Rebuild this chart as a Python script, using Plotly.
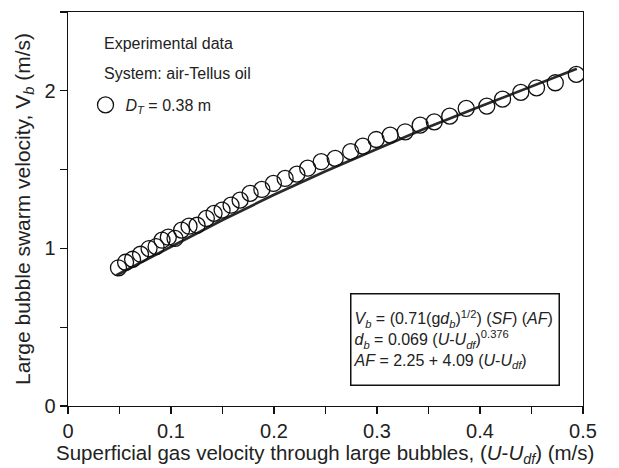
import plotly.graph_objects as go

u_exp = [0.0490, 0.0559, 0.0627, 0.0704, 0.0787, 0.0855, 0.0913, 0.0974, 0.1039, 0.1103,
         0.1175, 0.1253, 0.1343, 0.1418, 0.1496, 0.1583, 0.1671, 0.1768, 0.1882, 0.1994,
         0.2108, 0.2222, 0.2327, 0.2458, 0.2594, 0.2744, 0.2863, 0.2992, 0.3128, 0.3274,
         0.3419, 0.3556, 0.3706, 0.3866, 0.4066, 0.4219, 0.4396, 0.4549, 0.4731, 0.4935]
vb_exp = [0.877, 0.912, 0.931, 0.963, 0.999, 1.011, 1.052, 1.071, 1.063, 1.116,
          1.141, 1.147, 1.190, 1.222, 1.243, 1.274, 1.306, 1.349, 1.374, 1.412,
          1.444, 1.471, 1.509, 1.550, 1.571, 1.614, 1.649, 1.691, 1.719, 1.740,
          1.782, 1.803, 1.839, 1.888, 1.903, 1.947, 1.990, 2.019, 2.051, 2.104]

# Correlation curve
u_fit = [0.047, 0.10, 0.15, 0.20, 0.25, 0.30, 0.35, 0.40, 0.45, 0.494]
vb_fit = [0.83, 1.01, 1.18, 1.34, 1.49, 1.63, 1.77, 1.90, 2.03, 2.14]

x_tickvals = [0, 0.1, 0.2, 0.3, 0.4, 0.5]
x_ticktext = ["0", "0.1", "0.2", "0.3", "0.4", "0.5"]
y_tickvals = [0, 1, 2]
y_ticktext = ["0", "1", "2"]

FONT = "Liberation Sans, Arial, Helvetica, sans-serif"
TXT = "#222222"
AX = "#111111"

fig = go.Figure()
fig.add_trace(go.Scatter(
    x=u_fit, y=vb_fit, mode="lines",
    line=dict(color="#2a2a2a", width=2.7),
    showlegend=False, hoverinfo="skip"))
fig.add_trace(go.Scatter(
    x=u_exp, y=vb_exp, mode="markers",
    marker=dict(symbol="circle-open", size=16, color=AX, line=dict(width=1.3)),
    name="<i>D<sub>T</sub></i> = 0.38 m", showlegend=True))

axis_common = dict(
    showgrid=False, zeroline=False, showline=True, linecolor=AX, linewidth=1.3,
    mirror=True, ticks="outside", ticklen=7, tickwidth=1.3, tickcolor=AX,
    tickfont=dict(family=FONT, size=20, color=TXT),
)

fig.update_layout(
    width=619, height=468,
    margin=dict(l=68, r=36, t=12, b=62),
    paper_bgcolor="white", plot_bgcolor="white",
    font=dict(family=FONT, color=TXT),
    hovermode=False,
    xaxis=dict(range=[0, 0.5], tickmode="array", tickvals=x_tickvals, ticktext=x_ticktext,
               minor=dict(ticks="outside", ticklen=7, tickwidth=1.3, tickcolor=AX, dtick=0.05,
                          showgrid=False),
               **axis_common),
    yaxis=dict(range=[0, 2.5], tickmode="array", tickvals=y_tickvals, ticktext=y_ticktext,
               minor=dict(ticks="outside", ticklen=7, tickwidth=1.3, tickcolor=AX, dtick=0.5,
                          showgrid=False),
               title=dict(text="Large bubble swarm velocity, V<sub><i>b</i></sub> (m/s)",
                          font=dict(family=FONT, size=21, color=TXT), standoff=8),
               **axis_common),
    legend=dict(x=0.034, y=0.764, xanchor="left", yanchor="middle",
                bgcolor="rgba(0,0,0,0)", borderwidth=0,
                font=dict(family=FONT, size=16, color=TXT)),
    showlegend=True,
)

# x-axis title (as annotation for exact placement)
fig.add_annotation(xref="paper", yref="paper", x=0.4985, y=-0.121, xanchor="center", yanchor="middle",
                   text="Superficial gas velocity through large bubbles, (<i>U</i>-<i>U<sub>df</sub></i>) (m/s)",
                   showarrow=False, font=dict(family=FONT, size=20.5, color=TXT))

fig.add_annotation(xref="paper", yref="paper", x=0.0654, y=0.921, xanchor="left", yanchor="middle",
                   text="Experimental data", showarrow=False,
                   font=dict(family=FONT, size=16, color=TXT))
fig.add_annotation(xref="paper", yref="paper", x=0.0654, y=0.845, xanchor="left", yanchor="middle",
                   text="System: air-Tellus oil", showarrow=False,
                   font=dict(family=FONT, size=16, color=TXT))

box_text = ("<i>V<sub>b</sub></i> = (0.71(g<i>d<sub>b</sub></i>)<sup>1/2</sup>) (<i>SF</i>) (<i>AF</i>)<br>"
            "<i>d<sub>b</sub></i> = 0.069 (<i>U</i>-<i>U<sub>df</sub></i>)<sup>0.376</sup><br>"
            "<i>AF</i> = 2.25 + 4.09 (<i>U</i>-<i>U<sub>df</sub></i>)")
fig.add_annotation(xref="paper", yref="paper", x=0.7505, y=0.168, xanchor="center", yanchor="middle",
                   text=box_text, showarrow=False, align="left",
                   width=203, height=86, borderpad=2,
                   bordercolor=AX, borderwidth=1.5, bgcolor="white",
                   font=dict(family=FONT, size=16, color=TXT))

fig.write_html("out.html",
               config={"displayModeBar": False, "staticPlot": True},
               post_script="document.body.style.margin='0px';document.body.style.padding='0px';")
